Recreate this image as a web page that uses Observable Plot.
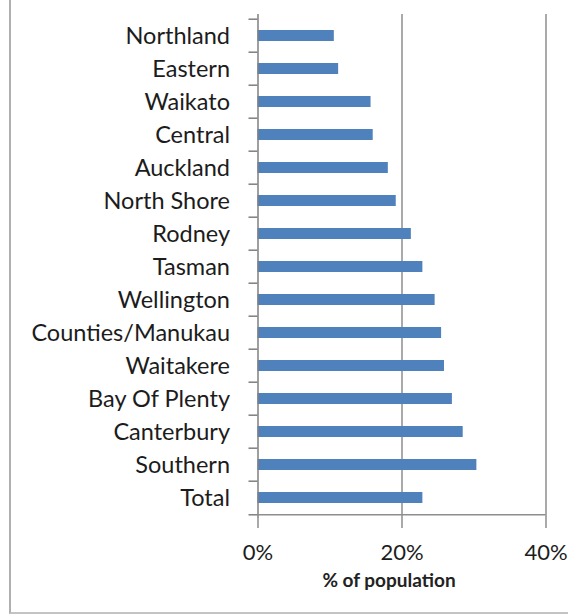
<!DOCTYPE html>
<html><head><meta charset="utf-8">
<script src="https://cdn.jsdelivr.net/npm/d3@7"></script>
<script src="https://cdn.jsdelivr.net/npm/@observablehq/plot@0.6"></script>
<style>
html,body{margin:0;padding:0;background:#fff;}
#wrap{position:relative;width:568px;height:616px;overflow:hidden;}
#border{position:absolute;left:9px;top:-4px;width:600px;height:618px;border-left:2px solid #b0b0b0;border-bottom:2px solid #c4c4c4;box-sizing:border-box;pointer-events:none;}
#wrap svg{position:absolute;left:0;top:0;}
</style></head><body><div id="wrap"><div id="border"></div></div>
<script>
const regions = ["Northland","Eastern","Waikato","Central","Auckland","North Shore","Rodney","Tasman","Wellington","Counties/Manukau","Waitakere","Bay Of Plenty","Canterbury","Southern","Total"];
const values = [10.6, 11.2, 15.7, 16.0, 18.1, 19.2, 21.3, 22.9, 24.6, 25.5, 25.9, 27.0, 28.5, 30.4, 22.9];
const xTicks = [0, 20, 40];
const xLabel = "% of population";

const data = regions.map((r, i) => ({region: r, value: values[i]}));
const W = 568, H = 616, mt = 14, mb = 98, ml = 257.5, mr = 22.5;
const step = (H - mt - mb) / regions.length;
const last = regions[regions.length - 1];
const axisColor = "#7f7f7f", gridColor = "#8e8e8e", textColor = "#1c1c1c";

const chart = Plot.plot({
  width: W, height: H,
  marginTop: mt, marginBottom: mb, marginLeft: ml, marginRight: mr,
  style: {fontFamily: "Lato, 'Open Sans', sans-serif", background: "transparent", overflow: "visible"},
  x: {domain: [0, 40]},
  y: {domain: regions, paddingInner: 0.67, paddingOuter: 0.335},
  marks: [
    Plot.ruleX(xTicks.slice(1), {stroke: gridColor, strokeWidth: 1.5}),
    Plot.barX(data, {x: "value", y: "region", fill: "#4F81BD"}),
    Plot.ruleX([0], {stroke: axisColor, strokeWidth: 1.5}),
    Plot.ruleY([last], {dy: step / 2, stroke: gridColor, strokeWidth: 1.5}),
    Plot.axisY({tickSize: 0, tickPadding: 28, fontSize: 23.5, fill: textColor, stroke: textColor, strokeWidth: 0.35, label: null}),
    Plot.axisY(regions, {tickSize: 9, dy: -step / 2, stroke: axisColor, strokeWidth: 1.5, tickFormat: () => "", label: null}),
    Plot.axisY([last], {tickSize: 9, dy: step / 2, stroke: axisColor, strokeWidth: 1.5, tickFormat: () => "", label: null}),
    Plot.axisX(xTicks, {tickSize: 10, tickPadding: 16, fontSize: 22, tickFormat: d => d + "%", stroke: gridColor, strokeWidth: 1.5, fill: textColor, label: null}),
    Plot.text([xLabel], {frameAnchor: "bottom", dy: 68, dx: -13, fontSize: 19, fontWeight: "bold", fill: "#222", letterSpacing: "1px"})
  ]
});
document.getElementById("wrap").appendChild(chart);
// text of the x tick labels should not get the tick stroke
chart.querySelectorAll("g[aria-label='x-axis tick label']").forEach(g => g.setAttribute("stroke", "none"));
</script>
</body></html>
